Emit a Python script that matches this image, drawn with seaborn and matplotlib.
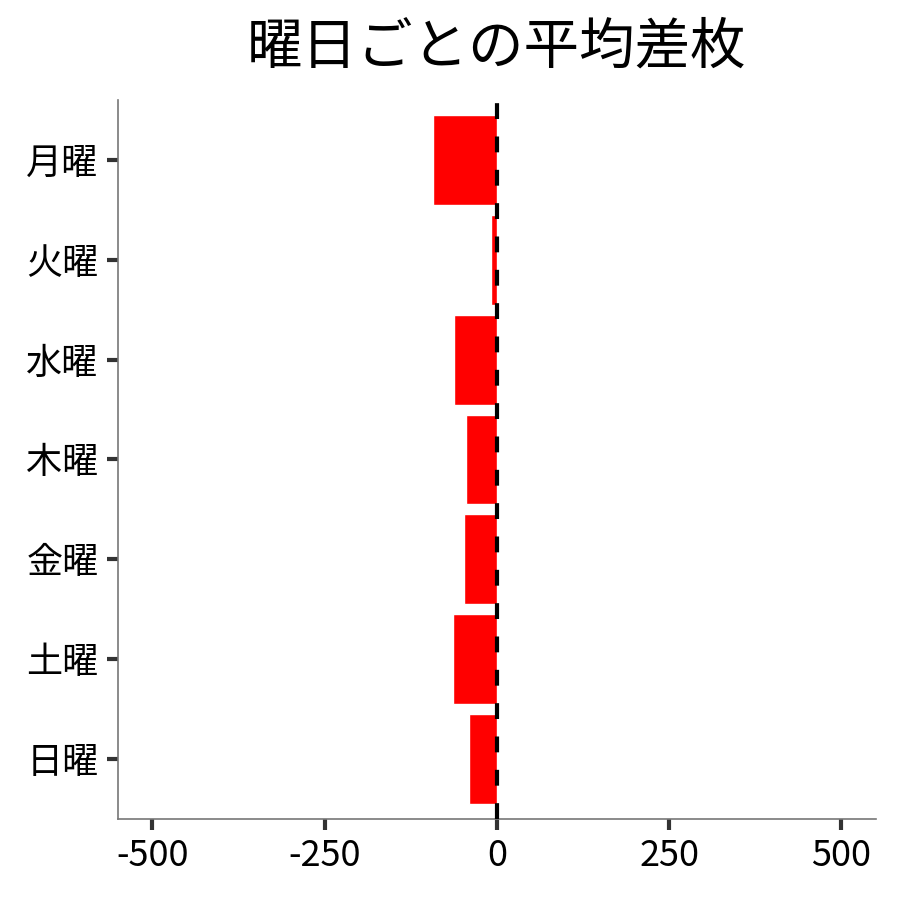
import numpy as np
import pandas as pd
import matplotlib
matplotlib.use("Agg")
import matplotlib.pyplot as plt
import seaborn as sns

# 曜日ごとの平均差枚
days = ['月曜', '火曜', '水曜', '木曜', '金曜', '土曜', '日曜']
avg_diff = [-93, -8, -62, -45, -48, -64, -41]
xticks = [-500, -250, 0, 250, 500]

df = pd.DataFrame({'曜日': days, '平均差枚': avg_diff})

sns.set_style('white')
plt.rcParams['font.family'] = ['Noto Sans CJK JP', 'DejaVu Sans']
plt.rcParams['text.color'] = 'black'

fig = plt.figure(figsize=(9, 9), dpi=100)
ax = fig.add_axes([0.131, 0.09, 0.842, 0.799])

sns.barplot(data=df, x='平均差枚', y='曜日', order=days, color='red',
            saturation=1, width=0.9, ax=ax)
ax.axvline(0, color='black', linestyle='--', linewidth=3, dashes=(3.8, 4.2), zorder=5)

ax.set_xlim(-550, 550)
ax.set_ylim(6.6, -0.6)
ax.set_xticks(xticks)
ax.set_xticklabels([str(t) for t in xticks])
ax.set_xlabel('')
ax.set_ylabel('')
ax.tick_params(axis='both', left=True, bottom=True, labelsize=26, length=8,
               width=3, color='#333333', labelcolor='black', direction='out', pad=6)
sns.despine(ax=ax)
for s in ['left', 'bottom']:
    ax.spines[s].set_color('#777777')
    ax.spines[s].set_linewidth(1.2)

ax.set_title('曜日ごとの平均差枚', fontsize=40, pad=26, color='black')

fig.savefig('out.png', dpi=100)
